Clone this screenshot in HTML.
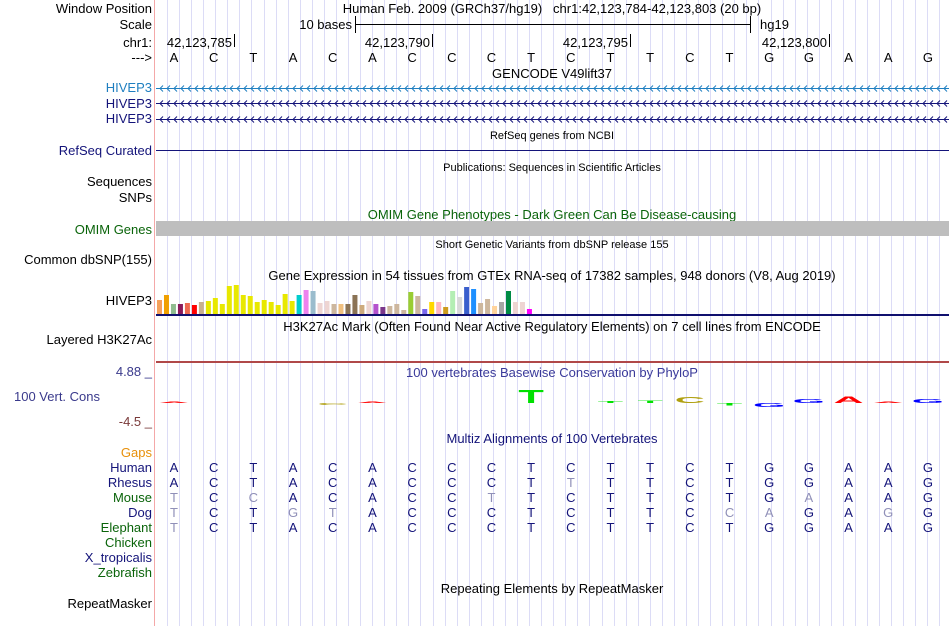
<!DOCTYPE html>
<html><head><meta charset="utf-8"><style>
html,body{margin:0;padding:0;background:#fff;}
svg{display:block;font-family:"Liberation Sans",sans-serif;}
</style></head><body>
<svg id="c" width="950" height="626" viewBox="0 0 950 626" xmlns="http://www.w3.org/2000/svg">
<rect x="0" y="0" width="950" height="626" fill="#fff"/>
<g id="grid"></g>
<line x1="154.5" y1="0" x2="154.5" y2="626" stroke="#f4a8a8" stroke-width="1"/>

<g font-size="13" text-anchor="end">
<text x="152" y="13" fill="#000">Window Position</text>
<text x="152" y="29" fill="#000">Scale</text>
<text x="152" y="47" fill="#000">chr1:</text>
<text x="152" y="62" fill="#000">---&gt;</text>
<text x="152" y="92" fill="#1f7fc0">HIVEP3</text>
<text x="152" y="108" fill="#14147a">HIVEP3</text>
<text x="152" y="123" fill="#14147a">HIVEP3</text>
<text x="152" y="155" fill="#14147a">RefSeq Curated</text>
<text x="152" y="186" fill="#000">Sequences</text>
<text x="152" y="202" fill="#000">SNPs</text>
<text x="152" y="234" fill="#0a640a">OMIM Genes</text>
<text x="152" y="264" fill="#000">Common dbSNP(155)</text>
<text x="152" y="305" fill="#000">HIVEP3</text>
<text x="152" y="344" fill="#000">Layered H3K27Ac</text>
<text x="152" y="376" fill="#3a3a8c">4.88 _</text>
<text x="100" y="401" fill="#3a3a8c">100 Vert. Cons</text>
<text x="152" y="426" fill="#7a3a3a">-4.5 _</text>
<text x="152" y="457" fill="#e8900a">Gaps</text>
<text x="152" y="472" fill="#14147a">Human</text>
<text x="152" y="487" fill="#14147a">Rhesus</text>
<text x="152" y="502" fill="#0a640a">Mouse</text>
<text x="152" y="517" fill="#14147a">Dog</text>
<text x="152" y="532" fill="#0a640a">Elephant</text>
<text x="152" y="547" fill="#0a640a">Chicken</text>
<text x="152" y="562" fill="#14147a">X_tropicalis</text>
<text x="152" y="577" fill="#0a640a">Zebrafish</text>
<text x="152" y="608" fill="#000">RepeatMasker</text>
</g>

<g font-size="13">
<text x="552" y="13" text-anchor="middle" xml:space="preserve">Human Feb. 2009 (GRCh37/hg19)   chr1:42,123,784-42,123,803 (20 bp)</text>
<text x="352" y="29" text-anchor="end">10 bases</text>
<line x1="355" y1="24.5" x2="751" y2="24.5" stroke="#000"/>
<line x1="355.5" y1="16" x2="355.5" y2="33" stroke="#000"/>
<line x1="750.5" y1="16" x2="750.5" y2="33" stroke="#000"/>
<text x="760" y="29">hg19</text>
</g>
<g id="dyn"></g>

<g font-size="11" text-anchor="middle">
<text x="552" y="78" font-size="13">GENCODE V49lift37</text>
<text x="552" y="139">RefSeq genes from NCBI</text>
<text x="552" y="171">Publications: Sequences in Scientific Articles</text>
<text x="552" y="219" font-size="13" fill="#0a640a">OMIM Gene Phenotypes - Dark Green Can Be Disease-causing</text>
<text x="552" y="248">Short Genetic Variants from dbSNP release 155</text>
<text x="552" y="280" font-size="13">Gene Expression in 54 tissues from GTEx RNA-seq of 17382 samples, 948 donors (V8, Aug 2019)</text>
<text x="552" y="331" font-size="13">H3K27Ac Mark (Often Found Near Active Regulatory Elements) on 7 cell lines from ENCODE</text>
<text x="552" y="377" font-size="13" fill="#3a3a9a">100 vertebrates Basewise Conservation by PhyloP</text>
<text x="552" y="443" font-size="13" fill="#14147a">Multiz Alignments of 100 Vertebrates</text>
<text x="552" y="593" font-size="13">Repeating Elements by RepeatMasker</text>
</g>

<line x1="156" y1="150.5" x2="949" y2="150.5" stroke="#14147a"/>
<rect x="156" y="221" width="793" height="15" fill="#bebebe"/>
<line x1="156" y1="315" x2="949" y2="315" stroke="#10106e" stroke-width="2"/>
<line x1="156" y1="362" x2="949" y2="362" stroke="#b04848" stroke-width="2"/>
</svg>
<script>
const bases = ["A","C","T","A","C","A","C","C","C","T","C","T","T","C","T","G","G","A","A","G"];
const rhesus = "ACTACACCCTTTTCTGGAAG";
const mouse = "TCCACACCTTCTTCTGAAAG";
const dog = "TCTGTACCCTCTTCCAGAGG";
const elephant = "TCTACACCCTCTTCTGGAAG";
const positionLabels = ["42,123,785","42,123,790","42,123,795","42,123,800"];
const positionBaseIdx = [1,6,11,16];
const gtexValues = [14,19,10,10,11,9,12,13,16,10,28,29,19,18,12,14,12,9,20,13,19,24,23,11,13,10,10,10,19,9,13,10,7,8,10,4,22,18,5,12,12,7,23,17,27,25,11,15,8,12,23,12,12,5];
const gtexColors = ["#f5a05a","#f0a000","#8fbc8f","#8b1a5a","#ee6a50","#ff0000","#c8b08f","#e8e800","#e8e800","#e8e800","#e8e800","#e8e800","#e8e800","#e8e800","#e8e800","#e8e800","#e8e800","#e8e800","#e8e800","#e8e800","#00cdcd","#ee82ee","#9abccd","#eed5d2","#eed5d2","#cdb79e","#f0c080","#8b7355","#8b7355","#cdaa7d","#eed5d2","#b452cd","#7a378b","#cdb79e","#cdb79e","#cdb79e","#9acd32","#cdb79e","#7b68ee","#ffd700","#ffb6c1","#cd9b1d","#b4eeb4","#d9d9d9","#3a5fcd","#1e90ff","#cdb79e","#cdb79e","#ffd39b","#a6a6a6","#008b45","#eed5d2","#eed5d2","#ff00ff"];
const consScores = [0.1,0,0,0,-0.3,0.1,0,0,0,2.0,0,0.25,0.35,0.9,-0.4,-0.6,0.6,1.0,0.1,0.6];

const NS="http://www.w3.org/2000/svg";
const svg=document.getElementById('dyn');
const grid=document.getElementById('grid');
const n=bases.length, bw=39.68;
function bx(i){return 174+bw*i;}
function mk(tag,at,parent){const e=document.createElementNS(NS,tag);for(const k in at)e.setAttribute(k,at[k]);(parent||svg).appendChild(e);return e;}

for(let gx=167;gx<950;gx+=12.07){
  const l=mk('line',{x1:Math.round(gx)+0.5,y1:0,x2:Math.round(gx)+0.5,y2:626,stroke:'#dcdcf6'},grid);
  
  
}
positionLabels.forEach((s,k)=>{
  const tx=Math.round(bx(positionBaseIdx[k])+20);
  const t=mk('text',{x:tx-2,y:47,'font-size':13,'text-anchor':'end'});t.textContent=s;
  
  
  const l=mk('line',{x1:tx+0.5,y1:34,x2:tx+0.5,y2:47,stroke:'#000'});
  
  
});
bases.forEach((b,i)=>{
  const t=mk('text',{x:bx(i),y:62,'font-size':13,'text-anchor':'middle'});t.textContent=b;
  
  
});
[[88,'#1f7fc0'],[103,'#14147a'],[119,'#14147a']].forEach(([y,c])=>{
  let d=`M156 ${y+0.5}H949`;
  for(let cx=160;cx<949;cx+=7)d+=`M${cx+3} ${y-2.5}L${cx} ${y+0.5}L${cx+3} ${y+3.5}`;
  const p=mk('path',{d:d,stroke:c,fill:'none','stroke-width':1});
  
  
});
const gBase=314, gPitch=6.98;
gtexValues.forEach((v,i)=>{
  const r=mk('rect',{x:157+i*gPitch,y:gBase-v,width:5,height:v,fill:gtexColors[i]});
  
  
});
const consColor={A:'#ff0000',C:'#b0a010',G:'#0000ff',T:'#00e000'};
const cBase=403, pxPerUnit=6.5;
consScores.forEach((s,i)=>{
  if(s===0) return;
  const h=Math.max(1,Math.abs(s)*pxPerUnit);
  const w=30, b=bases[i];
  const sx=w/7.2, sy=h/7.2;
  const ty= s>=0 ? cBase : cBase+h;
  const t=mk('text',{'font-size':10,'font-weight':'bold','text-anchor':'middle',fill:consColor[b],
    transform:`translate(${bx(i)},${ty}) scale(${sx},${sy})`,x:0,y:0});
  t.textContent=b;
  
  
});
const rows=[[472,bases.join('')],[487,rhesus],[502,mouse],[517,dog],[532,elephant]];
const ref=bases.join('');
rows.forEach(([y,seq])=>{
  for(let i=0;i<n;i++){
    const ch=seq[i];
    const t=mk('text',{x:bx(i),y:y,'font-size':13,'text-anchor':'middle',fill:ch===ref[i]?'#14147a':'#9090b8'});
    t.textContent=ch;
    
    
  }
});
</script>
</body></html>
